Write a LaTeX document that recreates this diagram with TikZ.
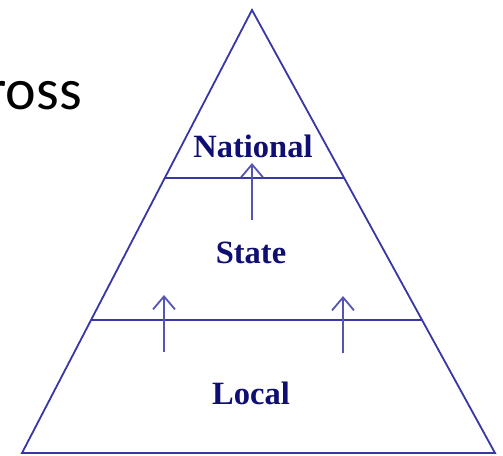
\documentclass[tikz,border=0pt]{standalone}
\usepackage{fontspec}
\setmainfont{Liberation Serif}
\newfontfamily\calib{Carlito}
\usetikzlibrary{arrows.meta,calc}
\definecolor{lineblue}{RGB}{55,55,165}
\definecolor{navy}{RGB}{15,15,115}
\tikzset{
  edge/.style={draw=lineblue, line width=1.8pt},
  uparrow/.style={draw=lineblue!85, line width=2pt, -{Straight Barb[length=13pt,width=22pt,line width=1.8pt]}},
  lvl/.style={text=navy, font=\bfseries\fontsize{32.5}{32.5}\selectfont, anchor=base, inner sep=0pt}
}
\begin{document}
\begin{tikzpicture}[x=1pt,y=-1pt]
\useasboundingbox[fill=white] (0,0) rectangle (503,455);
\coordinate (apex) at (252,10);
\coordinate (bl) at (22,453);
\coordinate (br) at (495,453);
\draw[edge, line join=miter] (apex) -- (bl) -- (br) -- cycle;
\coordinate (t1l) at ($(apex)!0.379!(bl)$);
\coordinate (t1r) at ($(apex)!0.379!(br)$);
\coordinate (t2l) at ($(apex)!0.70!(bl)$);
\coordinate (t2r) at ($(apex)!0.70!(br)$);
\draw[edge] (t1l) -- (t1r);
\draw[edge] (t2l) -- (t2r);
\coordinate (m1) at (252,220);
\coordinate (m2) at (252,163);
\coordinate (l1) at (164,352);
\coordinate (l2) at (164,295);
\coordinate (r1) at (343,353);
\coordinate (r2) at (343,296);
\draw[uparrow] (m1) -- (m2);
\draw[uparrow] (l1) -- (l2);
\draw[uparrow] (r1) -- (r2);
\node[lvl] (national) at (253,157) {National};
\node[lvl] (state) at (251,263) {State};
\node[lvl] (local) at (251,404) {Local};
\node[anchor=base east, inner sep=0pt, font=\calib\fontsize{58}{58}\selectfont] (ross) at (82,109) {ross};
\end{tikzpicture}
\end{document}
